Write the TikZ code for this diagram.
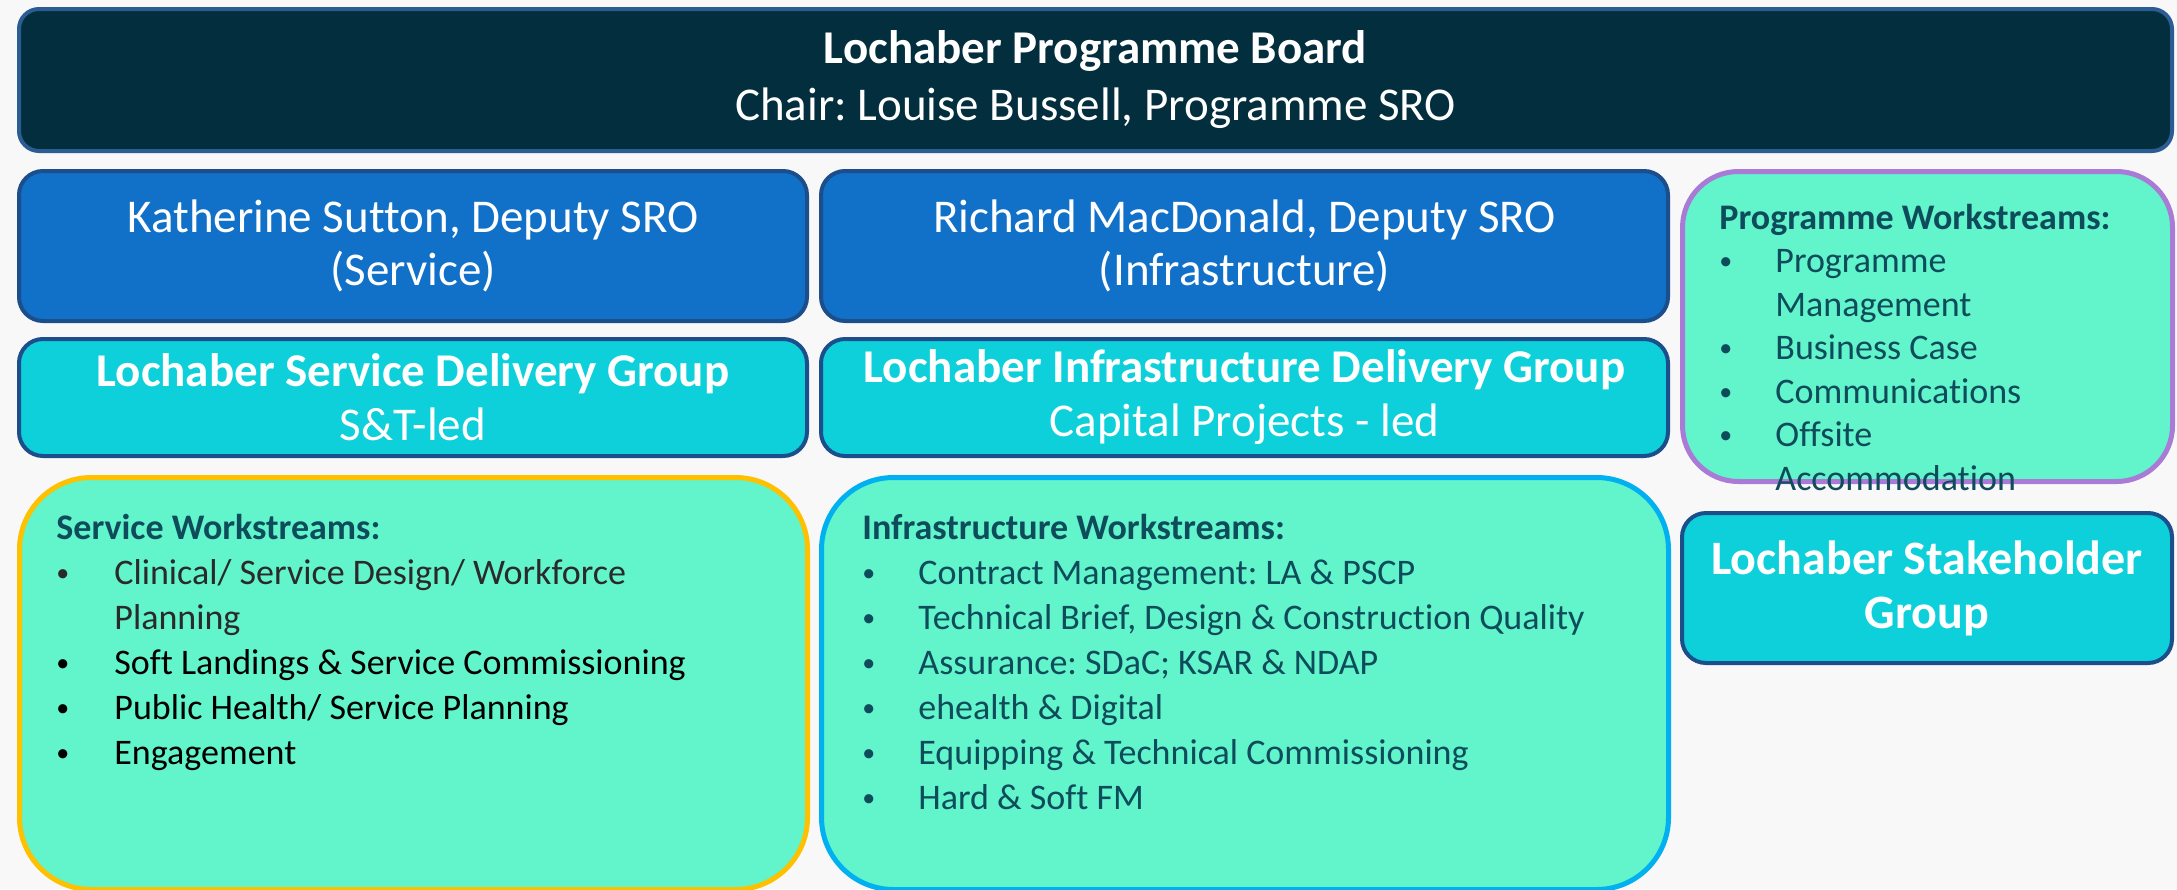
\documentclass[tikz,border=0pt]{standalone}
\usepackage{fontspec}
\setmainfont{Carlito}[Ligatures=NoCommon]
\usepackage{array}
\usepackage{graphicx}
\frenchspacing
\newcommand\blt{\raisebox{0.15ex}{\scalebox{0.72}{\textbullet}}}
\definecolor{bg}{HTML}{F8F8F8}
\definecolor{boardfill}{HTML}{032E3D}
\definecolor{boardline}{HTML}{2B5C94}
\definecolor{deputyfill}{HTML}{1170C8}
\definecolor{darkline}{HTML}{1B4E8A}
\definecolor{groupfill}{HTML}{0DD0DA}
\definecolor{mint}{HTML}{62F4CA}
\definecolor{purpleline}{HTML}{A97BD6}
\definecolor{goldline}{HTML}{FFC000}
\definecolor{skyline}{HTML}{00B0F0}
\definecolor{tealtext}{HTML}{0E4C5C}
\definecolor{greytext}{HTML}{2A2A2A}
\begin{document}
\begin{tikzpicture}[x=0.5pt,y=-0.5pt,
  blockbase/.style={draw, line width=2pt, inner sep=0pt, anchor=north west, align=center, text=white},
  boardbox/.style={blockbase, fill=boardfill, draw=boardline, rounded corners=10pt,
     font=\fontsize{23.5}{28.5}\selectfont},
  deputybox/.style={blockbase, fill=deputyfill, draw=darkline, rounded corners=12pt,
     font=\fontsize{23.5}{26.5}\selectfont},
  groupbox/.style={blockbase, fill=groupfill, draw=darkline, rounded corners=12pt,
     font=\fontsize{23.5}{27}\selectfont},
  wsbox/.style={draw, line width=2.5pt, fill=mint, inner sep=0pt, anchor=north west},
  listtext/.style={anchor=base west, inner sep=0pt, align=left, font=\fontsize{18}{22.5}\selectfont}
]
\useasboundingbox (0,0) rectangle (2177,889);
\fill[bg] (0,0) rectangle (2177,889);

\node[boardbox, minimum width=1076.5pt, minimum height=71pt] (board) at (17,7)
  {{\bfseries Lochaber Programme Board}\\Chair: Louise Bussell, Programme SRO};

\node[deputybox, minimum width=394pt, minimum height=75pt] (kath) at (17,169)
  {Katherine Sutton, Deputy SRO\\(Service)};
\node[deputybox, minimum width=423.5pt, minimum height=75pt] (rich) at (819,169)
  {Richard MacDonald, Deputy SRO\\(Infrastructure)};

\node[groupbox, minimum width=394pt, minimum height=58.5pt] (sdg) at (17,337)
  {{\bfseries Lochaber Service Delivery Group}\\S\&T-led};
\node[groupbox, minimum width=423.5pt, minimum height=58.5pt] (idg) at (819,337)
  {{\bfseries Lochaber Infrastructure Delivery Group}\\Capital Projects - led};

\node[wsbox, draw=purpleline, rounded corners=28pt, minimum width=245pt, minimum height=155pt] (progws) at (1680,169) {};
\node[groupbox, minimum width=245pt, minimum height=75pt, font=\bfseries\fontsize{24}{27}\selectfont] (stake) at (1680,511)
  {Lochaber Stakeholder\\Group};

\node[wsbox, draw=goldline, rounded corners=36pt, minimum width=394pt, minimum height=206pt] (sws) at (17,475) {};
\node[wsbox, draw=skyline, rounded corners=36pt, minimum width=423.5pt, minimum height=206pt] (iws) at (819,475) {};

\node[listtext, text=tealtext, font=\fontsize{18}{21.75}\selectfont] (progtext) at (1719,229)
  {\begin{tabular}[t]{@{}p{28pt}@{}l@{}}
   \multicolumn{2}{@{}l@{}}{\bfseries Programme Workstreams:}\\
   \blt & Programme\\
        & Management\\
   \blt & Business Case\\
   \blt & Communications\\
   \blt & Offsite\\
        & Accommodation
   \end{tabular}};

\node[listtext] (swstext) at (56,539)
  {\begin{tabular}[t]{@{}p{29pt}@{}l@{}}
   \multicolumn{2}{@{}l@{}}{\color{tealtext}\bfseries Service Workstreams:}\\
   \textcolor{greytext}{\blt} & \textcolor{greytext}{Clinical/ Service Design/ Workforce}\\
        & \textcolor{greytext}{Planning}\\
   \blt & Soft Landings \& Service Commissioning\\
   \blt & Public Health/ Service Planning\\
   \blt & Engagement
   \end{tabular}};

\node[listtext, text=tealtext] (iwstext) at (862,539)
  {\begin{tabular}[t]{@{}p{28pt}@{}l@{}}
   \multicolumn{2}{@{}l@{}}{\bfseries Infrastructure Workstreams:}\\
   \blt & Contract Management: LA \& PSCP\\
   \blt & Technical Brief, Design \& Construction Quality\\
   \blt & Assurance: SDaC; KSAR \& NDAP\\
   \blt & ehealth \& Digital\\
   \blt & Equipping \& Technical Commissioning\\
   \blt & Hard \& Soft FM
   \end{tabular}};
\end{tikzpicture}
\end{document}
